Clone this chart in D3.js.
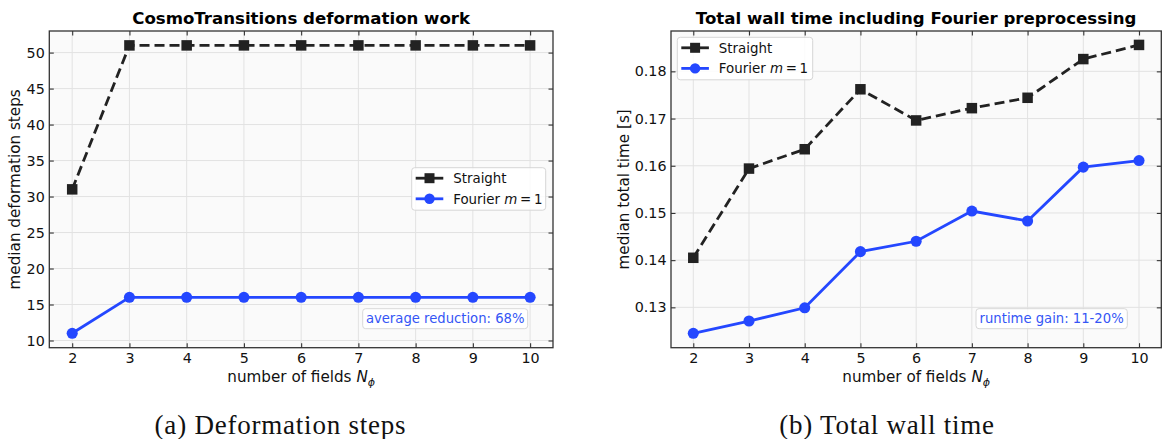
<!DOCTYPE html>
<html><head><meta charset="utf-8">
<script src="https://cdn.jsdelivr.net/npm/d3@7"></script>
<style>body{margin:0;background:#fff}svg{display:block}</style>
</head><body>
<svg id="c" width="1163" height="439"></svg>
<script>
const fields = [2,3,4,5,6,7,8,9,10];
const stepsStraight = [31,51,51,51,51,51,51,51,51];
const stepsFourier = [11,16,16,16,16,16,16,16,16];
const timeStraight = [0.1405,0.1594,0.1635,0.1762,0.1696,0.1722,0.1744,0.1826,0.1856];
const timeFourier = [0.1245,0.1271,0.1299,0.1418,0.1440,0.1504,0.1483,0.1597,0.1611];
const stepsTicks = [10,15,20,25,30,35,40,45,50];
const timeTicks = [0.13,0.14,0.15,0.16,0.17,0.18];
const seriesNames = ["Straight","Fourier"];

const BLACK = "#222222", BLUE = "#2447ff";
const svg = d3.select("#c");
const font = "DejaVu Sans, sans-serif";
const MS = 10.5; // marker size

function panel(o){
  const g = svg.append("g");
  const x = d3.scaleLinear().domain([1.6,10.4]).range([o.x0,o.x1]);
  const y = d3.scaleLinear().domain(o.yDom).range([o.y1,o.y0]);
  g.append("rect").attr("x",o.x0).attr("y",o.y0).attr("width",o.x1-o.x0).attr("height",o.y1-o.y0).attr("fill","#fafafa");
  g.append("g").selectAll("line").data(fields).join("line")
    .attr("x1",d=>x(d)).attr("x2",d=>x(d)).attr("y1",o.y0).attr("y2",o.y1)
    .attr("stroke","#e2e2e2").attr("stroke-width",1);
  g.append("g").selectAll("line").data(o.yTicks).join("line")
    .attr("y1",d=>y(d)).attr("y2",d=>y(d)).attr("x1",o.x0).attr("x2",o.x1)
    .attr("stroke","#e2e2e2").attr("stroke-width",1);
  const ax = (gen, tr) => {
    const a = g.append("g").attr("transform",tr).call(gen);
    a.select(".domain").remove();
    a.selectAll(".tick line").attr("stroke","#333").attr("stroke-width",1.1);
    a.selectAll("text").attr("font-family",font).attr("font-size",14.3).attr("fill","#111");
    return a;
  };
  ax(d3.axisBottom(x).tickValues(fields).tickFormat(d3.format("d")).tickSizeInner(-4.5).tickPadding(5), `translate(0,${o.y1})`);
  ax(d3.axisTop(x).tickValues(fields).tickFormat("").tickSizeInner(-4.5), `translate(0,${o.y0})`);
  ax(d3.axisLeft(y).tickValues(o.yTicks).tickFormat(o.fmt).tickSizeInner(-4.5).tickPadding(4.5), `translate(${o.x0},0)`);
  ax(d3.axisRight(y).tickValues(o.yTicks).tickFormat("").tickSizeInner(-4.5), `translate(${o.x1},0)`);
  g.append("rect").attr("x",o.x0).attr("y",o.y0).attr("width",o.x1-o.x0).attr("height",o.y1-o.y0)
    .attr("fill","none").attr("stroke","#333").attr("stroke-width",1.3);

  const line = d3.line().x((d,i)=>x(fields[i])).y(d=>y(d));
  const pg = g.append("g");
  pg.append("path").datum(o.a).attr("d",line).attr("fill","none").attr("stroke",BLACK).attr("stroke-width",2.8).attr("stroke-dasharray","10,5");
  pg.selectAll("rect.m").data(o.a).join("rect").attr("class","m")
    .attr("x",(d,i)=>x(fields[i])-MS/2).attr("y",d=>y(d)-MS/2).attr("width",MS).attr("height",MS).attr("fill",BLACK);
  pg.append("path").datum(o.b).attr("d",line).attr("fill","none").attr("stroke",BLUE).attr("stroke-width",2.8);
  pg.selectAll("circle").data(o.b).join("circle")
    .attr("cx",(d,i)=>x(fields[i])).attr("cy",d=>y(d)).attr("r",MS/2+0.3).attr("fill",BLUE);

  g.append("text").attr("x",(o.x0+o.x1)/2).attr("y",24).attr("text-anchor","middle")
    .attr("font-family",font).attr("font-weight","bold").attr("font-size",16.6).attr("fill","#000").text(o.title);
  const xl = g.append("text").attr("x",(o.x0+o.x1)/2).attr("y",382).attr("text-anchor","middle")
    .attr("font-family",font).attr("font-size",15.2).attr("fill","#111");
  xl.append("tspan").text("number of fields ");
  xl.append("tspan").attr("font-style","italic").text("N");
  xl.append("tspan").attr("font-style","italic").attr("font-size",11).attr("dy",3.5).text("ϕ");
  g.append("text").attr("transform",`translate(${o.ylx},${(o.y0+o.y1)/2}) rotate(-90)`).attr("text-anchor","middle")
    .attr("dy","0.35em").attr("font-family",font).attr("font-size",15.2).attr("fill","#111").text(o.ylabel);

  const L = o.leg;
  g.append("rect").attr("x",L.x).attr("y",L.y).attr("width",L.w).attr("height",42.5).attr("rx",3)
    .attr("fill","#fff").attr("fill-opacity",0.85).attr("stroke","#d6d6d6").attr("stroke-width",1);
  [0,1].forEach(i=>{
    const cy = L.y + 10.5 + i*20.6;
    const col = i===0?BLACK:BLUE;
    g.append("line").attr("x1",L.x+4).attr("x2",L.x+31.6).attr("y1",cy).attr("y2",cy).attr("stroke",col).attr("stroke-width",2.8);
    if(i===0) g.append("rect").attr("x",L.x+17.8-5).attr("y",cy-5).attr("width",10).attr("height",10).attr("fill",col);
    else g.append("circle").attr("cx",L.x+17.8).attr("cy",cy).attr("r",5.2).attr("fill",col);
    const t = g.append("text").attr("x",L.x+41.5).attr("y",cy).attr("dy","0.36em")
      .attr("font-family",font).attr("font-size",13.4).attr("fill","#111");
    if(i===0) t.text(seriesNames[0]);
    else { t.append("tspan").text(seriesNames[1]+" "); t.append("tspan").attr("font-style","italic").text("m"); t.append("tspan").text("\u2009=\u20091"); }
  });
  const A = o.ann;
  g.append("rect").attr("x",A.x).attr("y",308.7).attr("width",A.w).attr("height",20).attr("rx",3)
    .attr("fill","#fff").attr("fill-opacity",0.85).attr("stroke","#d8d8d8");
  g.append("text").attr("x",A.x+A.w/2).attr("y",318.7).attr("dy","0.36em").attr("text-anchor","middle")
    .attr("font-family",font).attr("font-size",13.2).attr("fill","#3556f5").text(A.text);
  g.append("text").attr("x",o.capx).attr("y",434).attr("text-anchor","middle")
    .attr("font-family","Liberation Serif, serif").attr("font-size",27).attr("letter-spacing",0.78)
    .attr("fill","#111").text(o.caption);
}

panel({id:"a",x0:49.3,x1:553,y0:31,y1:347.7,yDom:[9,53],yTicks:stepsTicks,fmt:d3.format("d"),
  a:stepsStraight,b:stepsFourier,title:"CosmoTransitions deformation work",ylabel:"median deformation steps",ylx:15,
  leg:{x:411.7,y:167.7,w:134},ann:{x:362.7,w:165,text:"average reduction: 68%"},capx:280.5,caption:"(a) Deformation steps"});
panel({id:"b",x0:671,x1:1161.3,y0:31,y1:347.7,yDom:[0.12145,0.18855],yTicks:timeTicks,fmt:d3.format(".2f"),
  a:timeStraight,b:timeFourier,title:"Total wall time including Fourier preprocessing",ylabel:"median total time [s]",ylx:623.3,
  leg:{x:677.3,y:37.3,w:135.4},ann:{x:976,w:151.3,text:"runtime gain: 11-20%"},capx:887,caption:"(b) Total wall time"});
</script>
</body></html>
